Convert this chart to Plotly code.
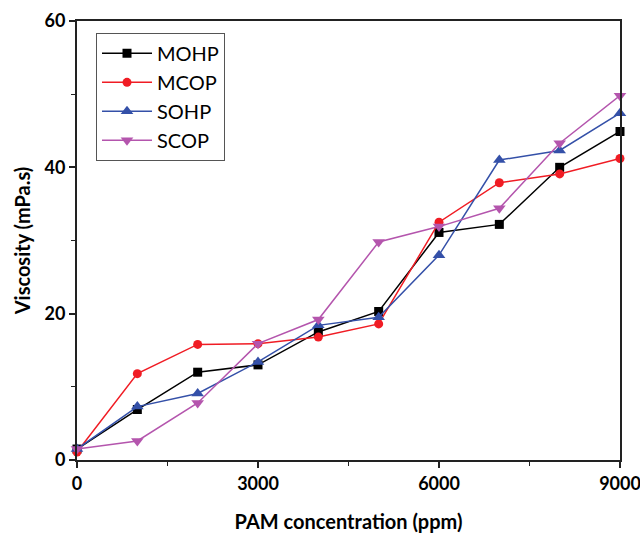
import plotly.graph_objects as go

pam_ppm = [0, 1000, 2000, 3000, 4000, 5000, 6000, 7000, 8000, 9000]
mohp = [1.5, 6.9, 12.0, 13.0, 17.5, 20.3, 31.1, 32.2, 40.0, 44.9]
mcop = [1.1, 11.8, 15.8, 15.9, 16.8, 18.6, 32.5, 37.9, 39.1, 41.2]
sohp = [1.5, 7.3, 9.1, 13.4, 18.4, 19.5, 28.0, 41.0, 42.3, 47.4]
scop = [1.5, 2.6, 7.8, 15.9, 19.2, 29.8, 31.9, 34.4, 43.3, 49.8]

series = [
    ("MOHP", mohp, "#000000", "square", 9),
    ("MCOP", mcop, "#F01C24", "circle", 9),
    ("SOHP", sohp, "#3450A8", "triangle-up", 11),
    ("SCOP", scop, "#B455AD", "triangle-down", 11),
]

x_ticks = [0, 3000, 6000, 9000]
y_ticks = [0, 20, 40, 60]

fig = go.Figure()
for name, vals, color, sym, size in series:
    fig.add_trace(go.Scatter(
        x=pam_ppm, y=vals, name=name, mode="lines+markers",
        line=dict(color=color, width=1.5),
        marker=dict(symbol=sym, size=size, color=color),
        cliponaxis=False,
    ))

font_family = "Lato, Open Sans, sans-serif"
fig.update_layout(
    width=640, height=534,
    margin=dict(l=77, r=20, t=21, b=74),
    plot_bgcolor="white", paper_bgcolor="white",
    font=dict(family=font_family, color="black"),
    showlegend=True,
    legend=dict(
        x=0.035, y=0.973, xanchor="left", yanchor="top",
        bordercolor="#555555", borderwidth=1, bgcolor="white",
        font=dict(size=20, family=font_family),
        itemwidth=50, tracegroupgap=2,
    ),
    xaxis=dict(
        range=[0, 9000], tickvals=x_ticks, ticktext=[str(v) for v in x_ticks],
        ticks="outside", ticklen=6, tickwidth=1.5, tickcolor="#222",
        minor=dict(tickvals=[1500, 4500, 7500], ticks="outside", ticklen=4, tickcolor="#222", tickwidth=1.2),
        showline=True, linecolor="#222", linewidth=2, mirror=True,
        showgrid=False, zeroline=False, automargin=False, ticklabeloverflow="allow",
        tickfont=dict(size=18, family=font_family, weight="bold"),
        title=dict(text="<b>PAM concentration (ppm)</b>", font=dict(size=20, family=font_family), standoff=22),
    ),
    yaxis=dict(
        range=[0, 60], tickvals=y_ticks, ticktext=[str(v) for v in y_ticks],
        ticks="outside", ticklen=6, tickwidth=1.5, tickcolor="#222",
        minor=dict(tickvals=[10, 30, 50], ticks="outside", ticklen=4, tickcolor="#222", tickwidth=1.2),
        showline=True, linecolor="#222", linewidth=2, mirror=True,
        showgrid=False, zeroline=False, automargin=False, ticklabeloverflow="allow",
        tickfont=dict(size=18, family=font_family, weight="bold"),
        title=dict(text="<b>Viscosity (mPa.s)</b>", font=dict(size=20, family=font_family), standoff=9),
    ),
)

fig.write_html(
    "out.html",
    config={"displayModeBar": False},
    post_script="document.body.style.margin='0';document.body.style.overflow='hidden';",
)
